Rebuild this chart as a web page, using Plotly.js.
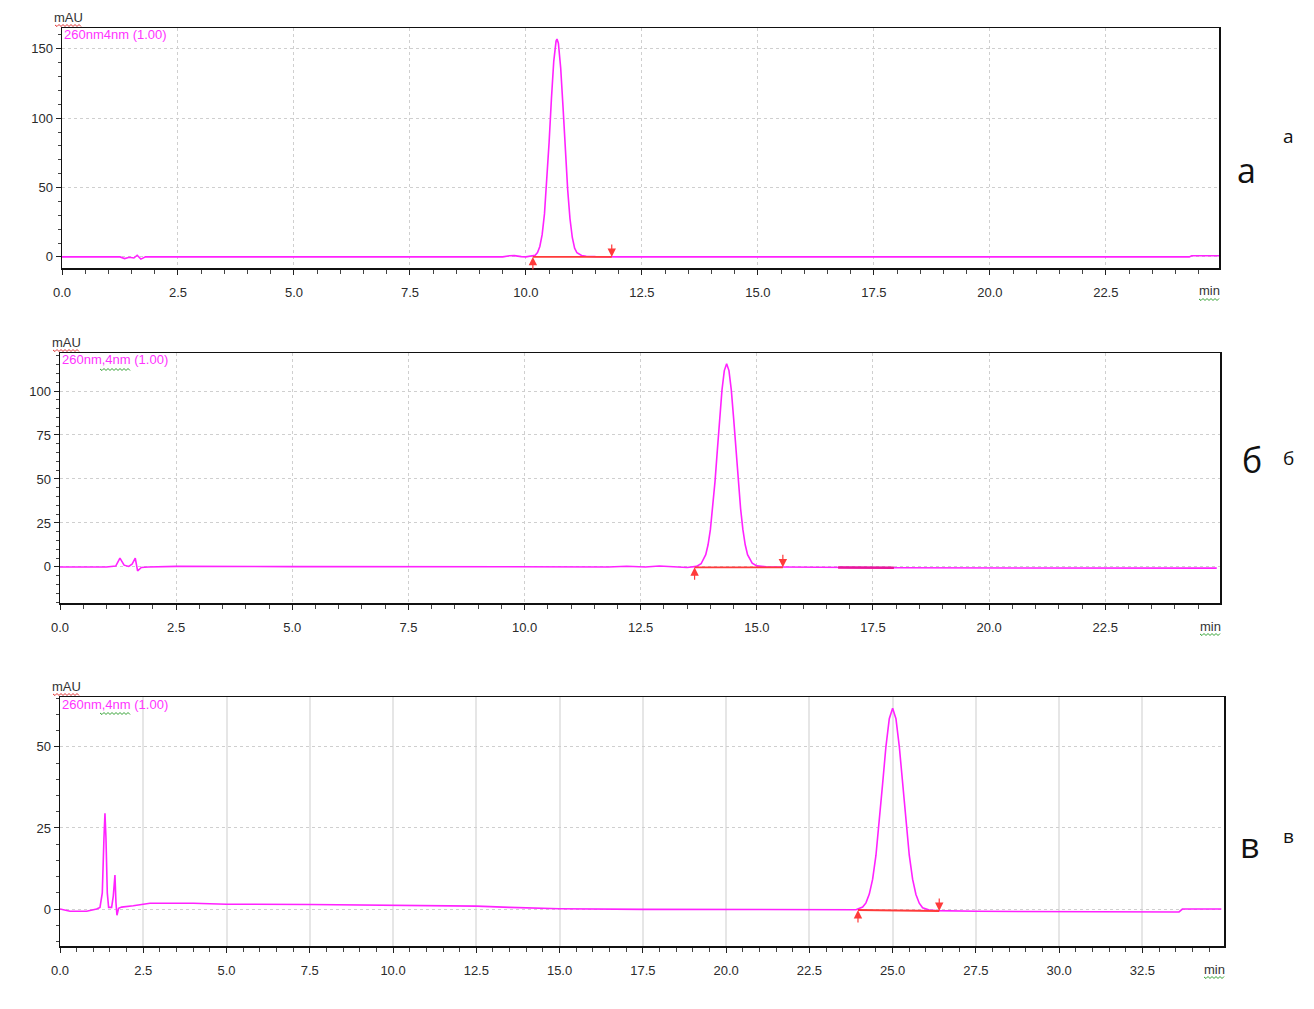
<!DOCTYPE html>
<html>
<head>
<meta charset="utf-8">
<script src="https://cdn.plot.ly/plotly-3.0.1.min.js"></script>
<style>html,body{margin:0;padding:0;background:#fff;}#chart{width:1314px;height:1009px;}</style>
</head>
<body>
<div id="chart"></div>
<script>
// ---------- DATA ----------
// Panel а
const timeA = [0, 0.5, 1.0, 1.25, 1.35, 1.45, 1.55, 1.62, 1.7, 1.8, 2.2, 5, 8, 9.5, 9.65, 9.75, 9.9, 10.0, 10.2, 10.25, 10.3, 10.35, 10.4, 10.45, 10.5, 10.55, 10.6, 10.65, 10.67, 10.7, 10.75, 10.8, 10.85, 10.9, 10.95, 11.0, 11.05, 11.1, 11.2, 11.3, 11.5, 12, 15, 20, 24.3, 24.35, 24.94];
const absA  = [0, 0, 0, 0, -1.2, -0.3, -0.8, 1.2, -1.6, 0, 0, 0, 0, 0, 0.8, 0.9, 0.2, 0, 1.2, 3.1, 7.5, 16, 31, 53.5, 82.6, 114, 141, 155.6, 157, 154, 136, 108, 76, 48.5, 27.5, 14, 6.3, 3, 1.0, 0.5, 0.2, 0, 0, 0, 0, 0.8, 0.8];
const baseTimeA = [10.15, 11.85];
const baseAbsA  = [0, 0];

// Panel б
const timeB = [0, 1.0, 1.2, 1.29, 1.38, 1.48, 1.55, 1.62, 1.67, 1.75, 1.9, 2.5, 5, 10, 11.8, 12.2, 12.6, 12.9, 13.2, 13.5, 13.7, 13.8, 13.9, 13.95, 14.0, 14.05, 14.1, 14.15, 14.2, 14.25, 14.3, 14.35, 14.4, 14.45, 14.5, 14.55, 14.6, 14.65, 14.7, 14.75, 14.8, 14.9, 15.0, 15.2, 15.5, 16.7, 18, 24.9];
const absB  = [0, 0, 0.5, 5, 1, 0.3, 1.5, 5, -2.3, -0.3, 0, 0.3, 0.2, 0, 0, 0.4, 0, 0.5, 0, -0.3, 0.3, 1.8, 7, 12.6, 21.2, 33.2, 48.6, 66.4, 84.6, 100.6, 111.6, 115.5, 111.6, 100.6, 84.6, 66.4, 48.6, 33.2, 21.2, 12.6, 7, 2.2, 0.6, 0.1, 0, -0.3, -0.5, -0.7];
const baseTimeB = [13.66, 15.56];
const baseAbsB  = [-0.2, -0.2];
const segTimeB  = [16.75, 17.95];
const segAbsB   = [-0.3, -0.45];

// Panel в
const timeC = [0, 0.3, 0.8, 1.1, 1.2, 1.27, 1.32, 1.35, 1.38, 1.42, 1.46, 1.55, 1.6, 1.65, 1.68, 1.71, 1.76, 1.85, 2.2, 2.7, 4.0, 5.0, 7.5, 10, 12.5, 13.5, 15, 17.5, 20, 22.5, 23.9, 24.1, 24.2, 24.3, 24.4, 24.5, 24.6, 24.7, 24.8, 24.9, 25.0, 25.1, 25.2, 25.3, 25.4, 25.5, 25.6, 25.7, 25.8, 25.9, 26.1, 26.3, 27.5, 30, 33.6, 33.7, 34.87];
const absC  = [0, -0.7, -0.7, 0, 0.5, 5, 22, 29.5, 22, 5, 0.5, 0.5, 4, 10.5, 2, -1.9, 0.2, 0.6, 1.0, 1.8, 1.8, 1.5, 1.4, 1.2, 0.9, 0.5, 0.1, -0.1, -0.2, -0.3, -0.2, 0.6, 1.9, 4.6, 9.2, 16.6, 26.8, 38.7, 50.2, 58.7, 61.9, 58.7, 50.2, 38.7, 26.8, 16.6, 9.2, 4.5, 1.8, 0.4, -0.3, -0.5, -0.7, -0.8, -0.9, 0, 0];
const baseTimeC = [23.96, 26.4];
const baseAbsC  = [-0.3, -0.6];

const xTickStep = 2.5;
const channelA = "260nm4nm (1.00)";
const channelBC = "260nm,4nm (1.00)";
const panelLetters = ["а", "б", "в"];

// ---------- LAYOUT HELPERS ----------
const W = 1314, H = 1009;
const px = x => x / W;
const py = y => 1 - y / H;

const lineColor = '#ff22ff';
const baseColor = '#ff3a3a';
const font = "'Liberation Sans', Arial, sans-serif";

const panels = [
  {x0: 62, x1: 1219, y0: 28, y1: 268, xr: [0, 24.94], yr: [-8, 165], ydt: 50, ymin: 10, vgrid: 'dot'},
  {x0: 60, x1: 1220, y0: 353, y1: 603, xr: [0, 24.97], yr: [-20.5, 121.6], ydt: 25, ymin: 5, vgrid: 'dot'},
  {x0: 60, x1: 1224, y0: 697, y1: 946, xr: [0, 34.95], yr: [-11.4, 65.4], ydt: 25, ymin: 5, vgrid: 'solid'}
];

const layout = {
  width: W, height: H,
  margin: {l: 0, r: 0, t: 0, b: 0},
  paper_bgcolor: '#fff', plot_bgcolor: '#fff',
  showlegend: false,
  annotations: [], shapes: []
};

panels.forEach((p, i) => {
  const s = i === 0 ? '' : String(i + 1);
  layout['xaxis' + s] = {
    domain: [px(p.x0), px(p.x1)], anchor: 'y' + s, range: p.xr,
    dtick: xTickStep, tick0: 0, tickformat: '.1f',
    ticks: 'outside', ticklen: 5, tickcolor: '#222', tickwidth: 1,
    ticklabelstandoff: 7,
    minor: {dtick: 0.5, ticks: 'outside', ticklen: 4, tickcolor: '#444', showgrid: false},
    showline: true, linecolor: '#111', linewidth: 1.5, mirror: true,
    showgrid: true, gridcolor: p.vgrid === 'solid' ? '#e6e6e6' : '#cfcfcf',
    gridwidth: p.vgrid === 'solid' ? 2 : 1, griddash: p.vgrid === 'solid' ? 'solid' : 'dot',
    zeroline: false, fixedrange: true,
    tickfont: {family: font, size: 13, color: '#2a2a2a'}
  };
  layout['yaxis' + s] = {
    domain: [py(p.y1), py(p.y0)], anchor: 'x' + s, range: p.yr,
    dtick: p.ydt, tick0: 0,
    ticks: 'outside', ticklen: 5, tickcolor: '#222',
    minor: {dtick: p.ymin, ticks: 'outside', ticklen: 3, tickcolor: '#444', showgrid: false},
    showline: true, linecolor: '#111', linewidth: 1.5, mirror: true,
    showgrid: true, gridcolor: '#cfcfcf', griddash: 'dot',
    zeroline: false, fixedrange: true,
    tickfont: {family: font, size: 13, color: '#2a2a2a'}
  };
  // mAU label
  layout.annotations.push({xref: 'paper', yref: 'paper', x: px(p.x0 + 6), y: py(p.y0 - 11),
    text: 'mAU', showarrow: false, font: {family: font, size: 13, color: '#333'}, xanchor: 'center', yanchor: 'middle'});
  // channel label
  layout.annotations.push({xref: 'paper', yref: 'paper', x: px(p.x0 + 0), y: py(p.y0 + 7),
    text: i === 0 ? channelA : channelBC, showarrow: false,
    font: {family: font, size: 13, color: '#ff33ff'}, xanchor: 'left', yanchor: 'middle'});
  // min label
  layout.annotations.push({xref: 'paper', yref: 'paper', x: px(p.x1 - 10), y: py(p.y1 + 23),
    text: 'min', showarrow: false, font: {family: font, size: 13, color: '#333'}, xanchor: 'center', yanchor: 'middle'});
});

// Panel letters on the right
const bigPos = [[1246, 170], [1252, 460], [1250, 845]];
const smallPos = [[1288, 136], [1288, 458], [1288, 836]];
panelLetters.forEach((L, i) => {
  layout.annotations.push({xref: 'paper', yref: 'paper', x: px(bigPos[i][0]), y: py(bigPos[i][1]),
    text: L, showarrow: false, font: {family: "'Open Sans', 'Noto Sans', sans-serif", size: 34, color: '#111'},
    xanchor: 'center', yanchor: 'middle'});
  layout.annotations.push({xref: 'paper', yref: 'paper', x: px(smallPos[i][0]), y: py(smallPos[i][1]),
    text: L, showarrow: false, font: {family: "'Open Sans', 'Noto Sans', sans-serif", size: 19, color: '#111'},
    xanchor: 'center', yanchor: 'middle'});
});

// Integration start / end arrows
const bases = [[baseTimeA, baseAbsA, 'x', 'y'], [baseTimeB, baseAbsB, 'x2', 'y2'], [baseTimeC, baseAbsC, 'x3', 'y3']];
bases.forEach(b => {
  layout.annotations.push({xref: b[2], yref: b[3], x: b[0][0], y: b[1][0], ax: 0, ay: 14,
    showarrow: true, arrowhead: 2, arrowsize: 1.4, arrowwidth: 1.2, arrowcolor: baseColor, text: ''});
  layout.annotations.push({xref: b[2], yref: b[3], x: b[0][1], y: b[1][1], ax: 0, ay: -14,
    showarrow: true, arrowhead: 2, arrowsize: 1.4, arrowwidth: 1.2, arrowcolor: baseColor, text: ''});
});

// wavy (spell-check style) underlines
function squiggle(x0, x1, y, color) {
  let d = 'M ' + px(x0) + ' ' + py(y);
  let k = 0;
  for (let x = x0 + 2; x <= x1; x += 2) {
    k++;
    d += ' L ' + px(x) + ' ' + py(y + (k % 2 ? 1.5 : -0.5));
  }
  layout.shapes.push({type: 'path', xref: 'paper', yref: 'paper', path: d, line: {color: color, width: 1}});
}
panels.forEach((p, i) => {
  squiggle(p.x0 - 7, p.x0 + 20, p.y0 - 3, '#e03030');
  squiggle(p.x1 - 20, p.x1 + 1, p.y1 + 31, '#30a030');
  if (i > 0) squiggle(p.x0 + 40, p.x0 + 70, p.y0 + 16, '#30a030');
});

// ---------- TRACES ----------
const traces = [
  {x: timeA, y: absA, xaxis: 'x', yaxis: 'y', mode: 'lines', line: {color: lineColor, width: 1.6}},
  {x: baseTimeA, y: baseAbsA, xaxis: 'x', yaxis: 'y', mode: 'lines', line: {color: baseColor, width: 1.8}},
  {x: timeB, y: absB, xaxis: 'x2', yaxis: 'y2', mode: 'lines', line: {color: lineColor, width: 1.6}},
  {x: segTimeB, y: segAbsB, xaxis: 'x2', yaxis: 'y2', mode: 'lines', line: {color: '#e8159a', width: 2.6}},
  {x: baseTimeB, y: baseAbsB, xaxis: 'x2', yaxis: 'y2', mode: 'lines', line: {color: baseColor, width: 1.8}},
  {x: timeC, y: absC, xaxis: 'x3', yaxis: 'y3', mode: 'lines', line: {color: lineColor, width: 1.6}},
  {x: baseTimeC, y: baseAbsC, xaxis: 'x3', yaxis: 'y3', mode: 'lines', line: {color: baseColor, width: 1.8}}
];

Plotly.newPlot('chart', traces, layout, {staticPlot: true, displayModeBar: false});
</script>
</body>
</html>
